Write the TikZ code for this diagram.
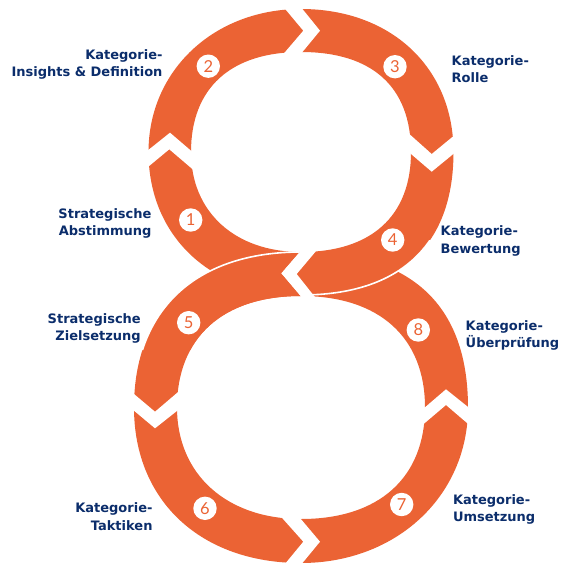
\documentclass[tikz,border=0pt]{standalone}
\usepackage{fontspec}
\usetikzlibrary{calc}
\newfontfamily\lblfont{DejaVu Sans}
\newfontfamily\numfont{Lato}
\definecolor{orng}{HTML}{EB6334}
\definecolor{navy}{HTML}{0B2D6B}
% #1 cx, #2 cy, #3 a, #4 b, #5 k lower-right, #6 k lower-left, #7 k upper-left, #8 k upper-right
\newcommand\ringshape[8]{%
 ({#1+#3},{#2}) .. controls ({#1+#3},{#2+#5*#4}) and ({#1+#5*#3},{#2+#4}) .. ({#1},{#2+#4})
 .. controls ({#1-#6*#3},{#2+#4}) and ({#1-#3},{#2+#6*#4}) .. ({#1-#3},{#2})
 .. controls ({#1-#3},{#2-#7*#4}) and ({#1-#7*#3},{#2-#4}) .. ({#1},{#2-#4})
 .. controls ({#1+#8*#3},{#2-#4}) and ({#1+#3},{#2-#8*#4}) .. ({#1+#3},{#2}) -- cycle}
\newcommand\topouter{\ringshape{301}{152}{152.5}{143}{0.65}{0.59}{0.57}{0.59}}
\newcommand\topinner{\ringshape{301}{152}{110}{100}{0.64}{0.6}{0.64}{0.65}}
\newcommand\botouter{\ringshape{301}{407.5}{167}{155.5}{0.57}{0.6}{0.63}{0.66}}
\newcommand\botinner{\ringshape{301}{407.5}{124}{111.5}{0.63}{0.6}{0.63}{0.63}}
% white chevron gap: head (outer, tip, inner), tail (outer, notch, inner)
\newcommand\gapcut[6]{\fill[white] ($#2!1.6!#1$) -- #2 -- ($#2!1.6!#3$) -- ($#5!1.6!#6$) -- #5 -- ($#5!1.6!#4$) -- cycle;}
\begin{document}
\begin{tikzpicture}[x=1pt,y=-1pt,
  lbl/.style={font=\lblfont\bfseries\fontsize{13}{17.4}\selectfont, text=navy, inner sep=0pt},
  numc/.style={circle, fill=white, minimum size=23.4pt, inner sep=0pt, text=orng,
    font=\numfont\fontsize{16.5}{16.5}\selectfont}]
\useasboundingbox (0,0) rectangle (576,570);
% bottom ring
\fill[orng, even odd rule] \botouter \botinner;
\gapcut{(134,394)}{(155,411.7)}{(177.3,392.7)}{(134,410.7)}{(155,428.3)}{(177.3,410.7)}
\gapcut{(286,562.7)}{(303.3,541.7)}{(283.3,519.3)}{(302.7,562.7)}{(320,541.7)}{(301.7,520)}
\gapcut{(466.7,422.7)}{(446,405)}{(423.3,424.3)}{(467.7,406.7)}{(446,389.3)}{(425,407.3)}
% top ring
\fill[orng, even odd rule] \topouter \topinner;
\begin{scope}
  \clip (305,240) rectangle (480,320);
  \draw[white, line width=1.6pt] \topouter;
\end{scope}
\gapcut{(148.3,166.7)}{(169.3,149.3)}{(192.3,169)}{(148.3,150)}{(170,132.7)}{(191,150.7)}
\gapcut{(286,10)}{(303.3,30.7)}{(284,53.3)}{(302.7,9.3)}{(320,30.7)}{(302.7,51.7)}
\gapcut{(452.7,136.7)}{(431.7,154)}{(409.3,134)}{(453.3,154)}{(431.7,171.7)}{(411,154)}
% crossing
\gapcut{(313.3,295)}{(296.7,274)}{(315,252.3)}{(300,295.7)}{(281,273.3)}{(298.3,253.3)}
\begin{scope}
  \clip (309.5,240.3) -- (281,273.3) -- (312.4,310.3) -- (312.4,350) -- (130,350) -- (130,240.3) -- cycle;
  \fill[orng, even odd rule] \botouter \botinner;
  \draw[white, line width=1.6pt] \botouter;
\end{scope}
% numbers
\node[numc] (n1) at (190.7,220) {1};
\node[numc] (n2) at (208.3,66.2) {2};
\node[numc] (n3) at (395,66.7) {3};
\node[numc] (n4) at (392.7,240) {4};
\node[numc] (n5) at (188.7,322.7) {5};
\node[numc] (n6) at (205,508.3) {6};
\node[numc] (n7) at (401.7,504.5) {7};
\node[numc] (n8) at (418.3,330) {8};
% labels (anchor = baseline of the last line)
\node[lbl, anchor=base east, align=right] (t2) at (162.7,76.7) {Kategorie-\\Insights \& Definition};
\node[lbl, anchor=base west, align=left] (t3) at (451.5,82.5) {Kategorie-\\Rolle};
\node[lbl, anchor=base east, align=right] (t1) at (151.7,235.7) {Strategische\\Abstimmung};
\node[lbl, anchor=base west, align=left] (t4) at (440.5,253.2) {Kategorie-\\Bewertung};
\node[lbl, anchor=base east, align=right] (t5) at (141,340.7) {Strategische\\Zielsetzung};
\node[lbl, anchor=base west, align=left] (t8) at (465.5,347.5) {Kategorie-\\Überprüfung};
\node[lbl, anchor=base east, align=right] (t6) at (152.7,530.3) {Kategorie-\\Taktiken};
\node[lbl, anchor=base west, align=left] (t7) at (452.8,521.5) {Kategorie-\\Umsetzung};
\end{tikzpicture}
\end{document}
